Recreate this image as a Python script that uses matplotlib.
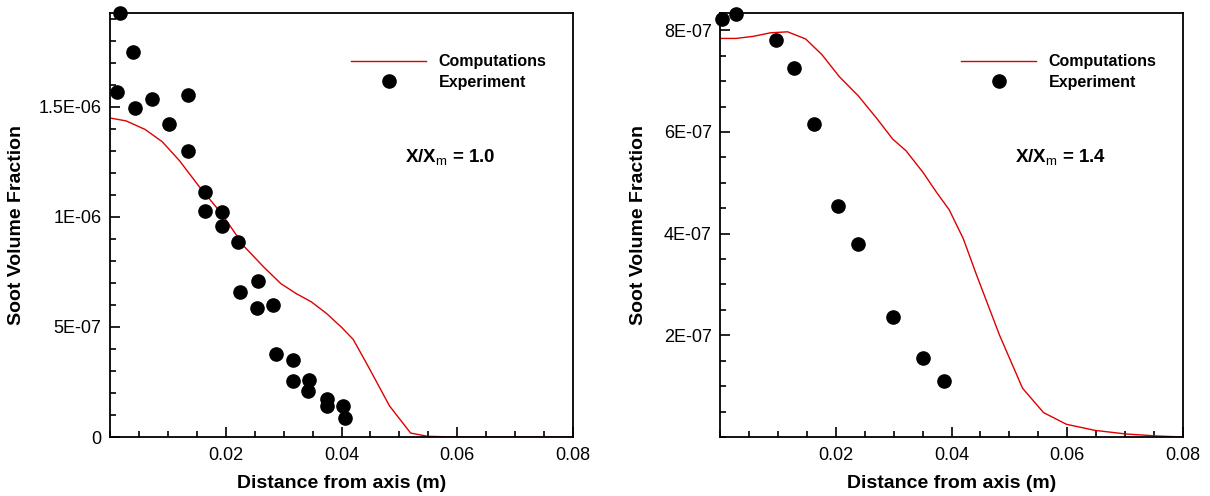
import matplotlib
matplotlib.use("Agg")
import matplotlib.pyplot as plt
from matplotlib.ticker import MultipleLocator, FixedLocator

plt.rcParams['font.family'] = ['Liberation Sans', 'DejaVu Sans']
plt.rcParams['mathtext.fontset'] = 'custom'
plt.rcParams['mathtext.rm'] = 'Liberation Sans'
plt.rcParams['mathtext.bf'] = 'Liberation Sans:bold'

# X/Xm = 1.0 -- computations
comp1_x = [0.0, 0.00277, 0.00607, 0.00904, 0.01201, 0.01531, 0.01927, 0.02324,
           0.02653, 0.0295, 0.03214, 0.03478, 0.03742, 0.04006, 0.04203, 0.04467,
           0.0483, 0.05194, 0.0549, 0.06, 0.07, 0.08]
comp1_y = [1.449e-06, 1.436e-06, 1.397e-06, 1.341e-06, 1.255e-06, 1.141e-06, 1.015e-06, 0.864e-06,
           7.73e-07, 6.97e-07, 6.52e-07, 6.14e-07, 5.61e-07, 4.97e-07, 4.43e-07, 3.18e-07,
           1.41e-07, 1.8e-08, 3e-09, 0.0, 0.0, 0.0]
# X/Xm = 1.0 -- experiment
exp1_x = [0.00165, 0.00403, 0.00126, 0.00436, 0.00726, 0.0134, 0.01016, 0.0134, 0.0165,
          0.0165, 0.01934, 0.01934, 0.0222, 0.02244, 0.02554, 0.0254, 0.0281, 0.0287,
          0.03154, 0.03154, 0.03444, 0.03425, 0.03742, 0.03742, 0.04026, 0.04052]
exp1_y = [1.924e-06, 1.75e-06, 1.568e-06, 1.493e-06, 1.535e-06, 1.552e-06, 1.423e-06, 1.30e-06, 1.111e-06,
          1.027e-06, 1.020e-06, 0.958e-06, 0.886e-06, 6.59e-07, 7.09e-07, 5.86e-07, 5.99e-07, 3.76e-07,
          3.49e-07, 2.55e-07, 2.58e-07, 2.08e-07, 1.74e-07, 1.40e-07, 1.41e-07, 0.86e-07]

# X/Xm = 1.4 -- computations
comp2_x = [0.0, 0.00277, 0.00573, 0.0087, 0.01168, 0.01479, 0.01762, 0.0206, 0.0239,
           0.0272, 0.02984, 0.03214, 0.03511, 0.03743, 0.0396, 0.04204, 0.04435, 0.04831,
           0.05227, 0.0559, 0.05987, 0.0648, 0.0701, 0.0755, 0.08]
comp2_y = [7.84e-07, 7.84e-07, 7.88e-07, 7.95e-07, 7.97e-07, 7.83e-07, 7.52e-07, 7.09e-07, 6.71e-07,
           6.25e-07, 5.86e-07, 5.63e-07, 5.20e-07, 4.81e-07, 4.47e-07, 3.90e-07, 3.18e-07, 2.0e-07,
           0.96e-07, 0.48e-07, 0.25e-07, 0.13e-07, 0.06e-07, 0.02e-07, 0.0]
# X/Xm = 1.4 -- experiment
exp2_x = [0.00033, 0.00271, 0.00971, 0.01274, 0.01617, 0.02046, 0.0239, 0.0299, 0.03504, 0.03867]
exp2_y = [8.23e-07, 8.33e-07, 7.80e-07, 7.26e-07, 6.16e-07, 4.55e-07, 3.79e-07, 2.37e-07, 1.55e-07, 1.11e-07]

xticks = [0.02, 0.04, 0.06, 0.08]
yticks1 = [0, 5e-07, 1e-06, 1.5e-06]
ylabels1 = ['0', '5E-07', '1E-06', '1.5E-06']
yticks2 = [2e-07, 4e-07, 6e-07, 8e-07]
ylabels2 = ['2E-07', '4E-07', '6E-07', '8E-07']

fig = plt.figure(figsize=(12.1, 4.96), dpi=100)
ax1 = fig.add_axes([110 / 1210, 59 / 496, 463 / 1210, 424 / 496])
ax2 = fig.add_axes([720 / 1210, 59 / 496, 463 / 1210, 424 / 496])

panels = [
    (ax1, comp1_x, comp1_y, exp1_x, exp1_y, yticks1, ylabels1, 1e-07, 1.926e-06, '1.0', -0.184),
    (ax2, comp2_x, comp2_y, exp2_x, exp2_y, yticks2, ylabels2, 5e-08, 8.34e-07, '1.4', -0.158),
]

for ax, cx, cy, ex, ey, yt, yl, ymin, ytop, lab, ylx in panels:
    ax.plot(cx, cy, color='#dd0000', lw=1.0, label='Computations')
    ax.plot(ex, ey, 'o', color='black', ms=9.5, label='Experiment', clip_on=False, zorder=5)
    ax.set_xlim(0, 0.08)
    ax.set_ylim(0, ytop)
    ax.xaxis.set_major_locator(FixedLocator(xticks))
    ax.set_xticklabels([f'{v:g}' for v in xticks])
    ax.xaxis.set_minor_locator(MultipleLocator(0.005))
    ax.yaxis.set_major_locator(FixedLocator(yt))
    ax.set_yticklabels(yl)
    ax.yaxis.set_minor_locator(MultipleLocator(ymin))
    ax.tick_params(which='both', direction='in', top=False, right=False, labelsize=13,
                   width=1.2, color='black')
    ax.tick_params(which='major', length=7, pad=6)
    ax.tick_params(axis='x', which='major', pad=7)
    ax.tick_params(which='minor', length=4.5)
    for s in ax.spines.values():
        s.set_linewidth(1.3)
    ax.set_xlabel('Distance from axis (m)', fontsize=14, fontweight='bold', labelpad=8)
    ax.set_ylabel('Soot Volume Fraction', fontsize=14, fontweight='bold')
    ax.yaxis.set_label_coords(ylx, 0.5)
    ax.legend(loc='upper left', bbox_to_anchor=(0.5205, 0.903), frameon=False,
              prop={'weight': 'bold', 'size': 11.5}, handlelength=4.7, handletextpad=0.8,
              labelspacing=0.35, borderpad=0, borderaxespad=0, numpoints=1)
    ax.text(0.637, 0.658, r'X/X$_{\mathrm{m}}$ = ' + lab, fontweight='bold',
            transform=ax.transAxes, fontsize=13.5, ha='left', va='center')

fig.savefig('out.png', dpi=100)
